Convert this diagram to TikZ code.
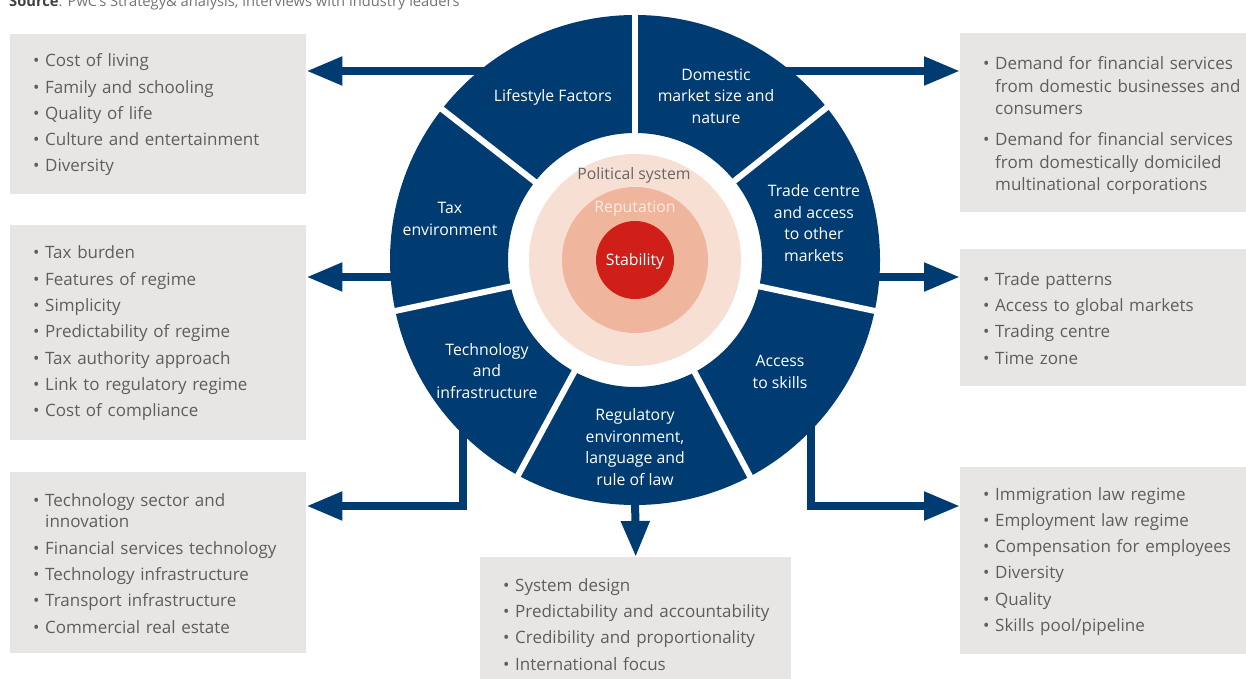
\documentclass[tikz,border=0pt]{standalone}
\usepackage{fontspec}
\setmainfont{Open Sans}
\usetikzlibrary{arrows.meta}
\definecolor{navy}{HTML}{003C71}
\definecolor{boxgray}{HTML}{E7E6E4}
\definecolor{txtgray}{HTML}{5E5E5E}
\definecolor{palepink}{HTML}{F8DFD3}
\definecolor{midpink}{HTML}{EFB69D}
\definecolor{corered}{HTML}{CF1F18}
\definecolor{reptext}{HTML}{FCEBE3}
\newcommand{\bpoint}[1]{\par\leftskip=23pt\relax\hangindent=12pt\hangafter=1\makebox[12pt][l]{\textbullet}#1}
\newcommand{\boxend}{\par\vspace{12pt}}
\newcommand{\boxfont}{\fontsize{17}{21.5}\selectfont\setlength{\parskip}{4.8pt}}
\newcommand{\segfont}{\fontsize{15.8}{21.5}\selectfont}

\begin{document}
\begin{tikzpicture}[x=1pt, y=1pt,
  infobox/.style={fill=boxgray, text=txtgray, font=\boxfont, align=left, inner sep=0pt, anchor=north west},
  seglabel/.style={text=white, font=\segfont, align=center},
  flow/.style={navy, line width=8pt, -{Triangle[length=36pt, width=27pt]}}]
 \useasboundingbox (0,0) rectangle (1246,-679);
 \node[anchor=base west, inner sep=0pt, font=\fontsize{14.7}{17}\selectfont, text=black!55] (source) at (9,-7) {\textcolor{black!75}{\textbf{Source}}: PwC’s Strategy\& analysis, interviews with industry leaders};
 % the wheel
 \fill[navy, even odd rule] (635,-260) circle (245) (635,-260) circle (127);
 \foreach \a in {90, 38.5, -12, -62, -118.5, -168, 142}
  \draw[white, line width=6pt] (635,-260) ++(\a:118) -- ++(\a:134);
 \fill[palepink] (635,-260) circle (106);
 \fill[midpink] (635,-260) circle (73);
 \fill[corered] (635,-260) circle (39);
 \node[font=\segfont, text=black!60] (polsys) at (634,-175) {Political system};
 \node[font=\segfont, text=reptext] (reputation) at (635,-209) {Reputation};
 \node[font=\segfont, text=white] (stability) at (635,-261) {Stability};
 \node[seglabel] (lifestyle) at (553,-97) {Lifestyle Factors};
 \node[seglabel] (domestic) at (716,-96) {Domestic\\market size and\\nature};
 \node[seglabel] (trade) at (814,-223) {Trade centre\\and access\\to other\\markets};
 \node[seglabel] (tax) at (450,-219) {Tax\\environment};
 \node[seglabel] (techinfra) at (487,-371) {Technology\\and\\infrastructure};
 \node[seglabel] (regulatory) at (635,-447) {Regulatory\\environment,\\language and\\rule of law};
 \node[seglabel] (skills) at (780,-372) {Access\\to skills};
 % the boxes
 \node[infobox, text width=296pt, minimum height=160pt] (lifebox) at (10,-34)
  {\bpoint{Cost of living}\bpoint{Family and schooling}\bpoint{Quality of life}\bpoint{Culture and entertainment}\bpoint{Diversity}\boxend};
 \node[infobox, text width=296pt, minimum height=215pt] (taxbox) at (10,-225)
  {\bpoint{Tax burden}\bpoint{Features of regime}\bpoint{Simplicity}\bpoint{Predictability of regime}\bpoint{Tax authority approach}\bpoint{Link to regulatory regime}\bpoint{Cost of compliance}\boxend};
 \node[infobox, text width=296pt, minimum height=181pt] (techbox) at (10,-472)
  {\bpoint{Technology sector and\newline innovation}\bpoint{Financial services technology}\bpoint{Technology infrastructure}\bpoint{Transport infrastructure}\bpoint{Commercial real estate}\boxend};
 \node[infobox, text width=306pt, minimum height=179pt, font={\boxfont\fontsize{17}{22.5}\selectfont\setlength{\parskip}{8.5pt}}] (dombox) at (960,-33)
  {\bpoint{Demand for financial services\newline from domestic businesses and\newline consumers}\bpoint{Demand for financial services\newline from domestically domiciled\newline multinational corporations}\boxend};
 \node[infobox, text width=306pt, minimum height=137pt] (tradebox) at (960,-249)
  {\bpoint{Trade patterns}\bpoint{Access to global markets}\bpoint{Trading centre}\bpoint{Time zone}\boxend};
 \node[infobox, text width=306pt, minimum height=187pt] (skillsbox) at (960,-467)
  {\bpoint{Immigration law regime}\bpoint{Employment law regime}\bpoint{Compensation for employees}\bpoint{Diversity}\bpoint{Quality}\bpoint{Skills pool/pipeline}\boxend};
 \node[infobox, text width=311pt, minimum height=133pt] (regbox) at (480,-557)
  {\bpoint{System design}\bpoint{Predictability and accountability}\bpoint{Credibility and proportionality}\bpoint{International focus}\boxend};
 % the arrows
 \coordinate (lifeout) at (520,-71);
 \coordinate (domout) at (760,-71);
 \coordinate (taxout) at (420,-277);
 \coordinate (tradeout) at (850,-277);
 \coordinate (techout) at (463,-420);
 \coordinate (techturn) at (463,-506);
 \coordinate (skillsout) at (811,-415);
 \coordinate (skillsturn) at (811,-506);
 \coordinate (regout) at (635,-490);
 \draw[flow] (lifeout) -- (lifebox.east |- lifeout);
 \draw[flow] (domout) -- (dombox.west |- domout);
 \draw[flow] (taxout) -- (taxbox.east |- taxout);
 \draw[flow] (tradeout) -- (tradebox.west |- tradeout);
 \draw[flow] (techout) -- (techturn) -- (techbox.east |- techturn);
 \draw[flow] (skillsout) -- (skillsturn) -- (skillsbox.west |- skillsturn);
 \draw[flow] (regout) -- (regbox.north);
\end{tikzpicture}
\end{document}
